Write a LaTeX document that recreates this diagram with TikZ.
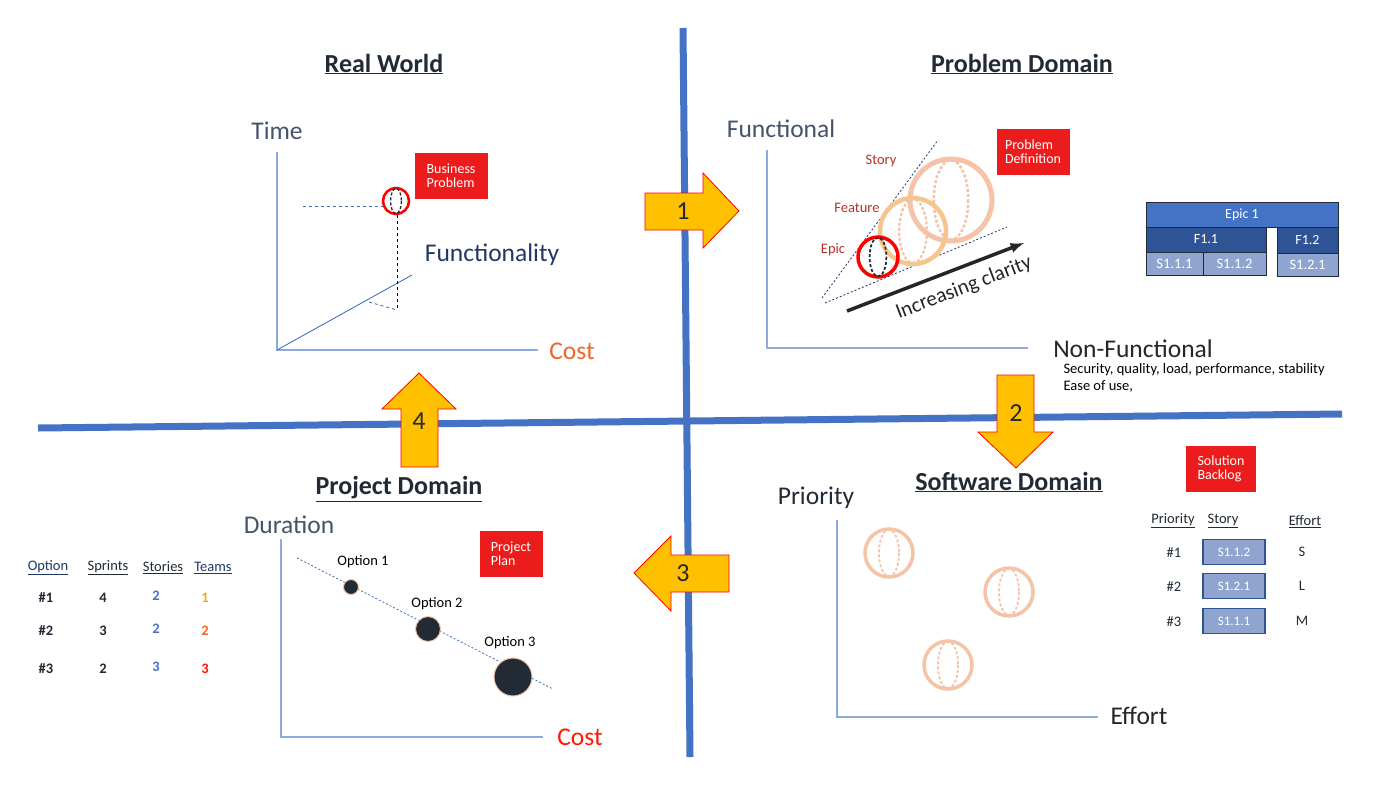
\documentclass[tikz,border=0pt]{standalone}
\usepackage{fontspec}
\setmainfont{Carlito}
\usetikzlibrary{positioning}

\definecolor{blu}{HTML}{4472C4}
\definecolor{assecol}{HTML}{8FAADC}
\definecolor{grigioblu}{HTML}{44546A}
\definecolor{navy}{HTML}{203864}
\definecolor{scuro}{HTML}{222A35}
\definecolor{rossobox}{HTML}{EC1C1C}
\definecolor{giallo}{HTML}{FFC000}
\definecolor{pesca}{HTML}{F4C3A8}
\definecolor{pescagialla}{HTML}{F7C48E}
\definecolor{rossoscuro}{HTML}{B8322A}
\definecolor{arancio}{HTML}{F06428}
\definecolor{arancio2}{HTML}{F5A623}
\definecolor{bluscuro}{HTML}{2F5496}
\definecolor{bluchiaro}{HTML}{8FA5CF}

\newcommand{\fs}[1]{\fontsize{#1}{#1}\selectfont}
% sfera: x, y, raggio, colore, colore interno, spessore
\newcommand{\sfera}[6]{%
   \draw[#4, line width=#6] (#1,#2) circle[radius=#3];
   \draw[#5, line width=0.5*#6, dash pattern=on 3pt off 2pt]
   (#1,#2) ellipse[x radius={0.42*#3}, y radius={0.97*#3}];}

\begin{document}
\begin{tikzpicture}[x=1pt,y=-1pt,
   titolo/.style={font=\fs{26}\bfseries, text=scuro},
   asselab/.style={font=\fs{25.5}},
   asse/.style={draw=assecol, line width=1.2},
   rbox/.style={fill=rossobox, text=white, font=\fs{14}, align=left,
     minimum width=73, minimum height=46, inner sep=2},
   freccia/.style={fill=giallo, draw=red, line width=0.8},
   numero/.style={font=\fs{26}, text=scuro},
   piccolo/.style={font=\fs{14.5}},
   cella/.style={draw=scuro, line width=0.6, text=white, font=\fs{13},
     inner sep=0},
   scella/.style={cella, fill=bluchiaro, font=\fs{14.5}, minimum height=23},
   storia/.style={cella, fill=bluchiaro, draw=bluscuro, line width=1.2,
     minimum width=62, minimum height=25}]
% sfondo
   \path[fill=white, use as bounding box] (0,0) rectangle (1400,788);
% linee di separazione
   \coordinate (vtop) at (683,28); \coordinate (vbot) at (690,757);
   \coordinate (hsx) at (38,428); \coordinate (hdx) at (1342,414);
   \draw[blu, line width=7] (vtop) -- (vbot);
   \draw[blu, line width=7] (hsx) -- (hdx);

% Real World
   \node[titolo] (rwtit) at (384,64) {\underline{Real World}};
   \node[asselab, text=grigioblu] (tempo) at (277,131) {Time};
   \node[asselab, text=arancio] (costorw) at (572,351) {Cost};
   \node[asselab, text=navy] (funz) at (492,255) {Functionality};
   \coordinate (orw) at (277,350); \coordinate (orwy) at (277,152);
   \coordinate (orwx) at (538,350); \coordinate (orwf) at (412,275);
   \draw[asse] (orwy) -- (orw) -- (orwx);
   \draw[blu, line width=0.9] (orw) -- (orwf);
   \coordinate (bpdx) at (303,206); \coordinate (bpgiu) at (397,310);
   \coordinate (bpdiag) at (369,302);
   \draw[blu, dashed, line width=0.9] (bpdx) -- (383,206);
   \draw[black, dashed, line width=0.9] (397,215) -- (bpgiu);
   \draw[blu, dashed, line width=0.9] (bpdiag) -- (bpgiu);
   \sfera{396}{201}{13}{red}{scuro}{2.6}
   \node[rbox] (bprob) at (451,176) {Business\\Problem};

% Problem Domain
   \node[titolo] (pdtit) at (1022,64) {\underline{Problem Domain}};
   \node[asselab, text=grigioblu] (funzionale) at (781,129) {Functional};
   \node[asselab, text=black!85] (nonfunz) at (1133,349) {Non-Functional};
   \node[piccolo, anchor=west, align=left, text=black] (nfdesc) at (1060,378)
     {Security, quality, load, performance, stability\\[3pt]Ease of use,};
   \coordinate (opd) at (767,348); \coordinate (opdy) at (767,150);
   \coordinate (opdx) at (1028,348);
   \draw[asse] (opdy) -- (opd) -- (opdx);
   \draw[navy, dash pattern=on 2pt off 2pt, line width=0.8] (822,298) -- (938,140);
   \draw[navy, dash pattern=on 2pt off 2pt, line width=0.8] (825,303) -- (1007,227);
   \draw[black!85, line width=3.5, -latex] (847,311) -- (1024,243);
   \node[font=\fs{21}, rotate=21, text=black!85] (chiarezza) at (964,288)
     {Increasing clarity};
   \sfera{951}{200}{41}{pesca}{pesca}{5}
   \sfera{913}{231}{33}{pescagialla}{pesca}{4.5}
   \sfera{878}{257}{20}{red}{scuro}{3.5}
   \node[piccolo, text=rossoscuro] (story) at (881,161) {Story};
   \node[piccolo, text=rossoscuro] (feature) at (857,208) {Feature};
   \node[piccolo, text=rossoscuro] (epic) at (833,250) {Epic};
   \node[rbox] (pdef) at (1033,152) {Problem\\Definition};
% tabella epic
   \node[cella, fill=blu, font=\fs{14}, minimum width=192, minimum height=25]
     (epic1) at (1242,214.5) {Epic 1};
   \node[cella, fill=bluscuro, font=\fs{14}, minimum width=120, minimum height=25]
     (f11) at (1206,239.5) {F1.1};
   \node[cella, fill=bluscuro, font=\fs{14}, minimum width=61, minimum height=26]
     (f12) at (1307.5,240) {F1.2};
   \node[scella, minimum width=57] (s111) at (1174.5,263.5) {S1.1.1};
   \node[scella, minimum width=63] (s112) at (1234.5,263.5) {S1.1.2};
   \node[scella, minimum width=61] (s121) at (1307.5,264.5) {S1.2.1};

% frecce
   \draw[freccia] (645,193) -- (703,193) -- (703,173) -- (739,211) -- (703,248)
     -- (703,230) -- (645,230) -- cycle;
   \node[numero] (n1) at (683,211) {1};
   \draw[freccia] (997,375) -- (1034,375) -- (1034,432) -- (1053,432)
     -- (1016,468) -- (978,432) -- (997,432) -- cycle;
   \node[numero] (n2) at (1016,413) {2};
   \draw[freccia] (634,573) -- (671,536) -- (671,555) -- (729,555) -- (729,592)
     -- (671,592) -- (671,611) -- cycle;
   \node[numero] (n3) at (683,573) {3};
   \draw[freccia] (419,373) -- (456,409) -- (438,409) -- (438,467) -- (401,467)
     -- (401,409) -- (382,409) -- cycle;
   \node[numero] (n4) at (419,421) {4};

% Project Domain
   \node[titolo] (prtit) at (399,489) {\underline{Project Domain}};
   \node[asselab, text=grigioblu] (durata) at (289,525) {Duration};
   \node[asselab, text=red!80!orange] (costopr) at (580,737) {Cost};
   \coordinate (opr) at (281,737); \coordinate (opry) at (281,539);
   \coordinate (oprx) at (543,737);
   \draw[asse] (opry) -- (opr) -- (oprx);
   \draw[blu, dash pattern=on 2pt off 2pt, line width=0.8] (297,558) -- (553,689);
   \fill[scuro, draw=pesca, line width=1] (351,587) circle[radius=7.5];
   \fill[scuro, draw=pesca, line width=1] (428,629) circle[radius=12.5];
   \fill[scuro, draw=pesca, line width=1] (513,677) circle[radius=19];
   \node[piccolo] (opt1) at (363,562) {Option 1};
   \node[piccolo] (opt2) at (437,604) {Option 2};
   \node[piccolo] (opt3) at (510,643) {Option 3};
   \node[rbox, minimum width=63] (pplan) at (511,554) {Project\\Plan};
% tabella opzioni
   \node[piccolo, text=navy] (hopt) at (48,568) {\underline{Option}};
   \node[piccolo, text=scuro] (hspr) at (108,568) {\underline{Sprints}};
   \node[piccolo, text=scuro] (hsto) at (163,568) {\underline{Stories}};
   \node[piccolo, text=navy] (htea) at (213,568) {\underline{Teams}};
   \foreach \r/\y/\s/\t/\c in {1/598/4/2/arancio2, 2/631/3/2/arancio,
       3/669/2/3/red!80!orange} {
     \node[piccolo, font=\fs{14.5}\bfseries, text=scuro] (op\r) at (46,\y) {\#\r};
     \node[piccolo, font=\fs{14.5}\bfseries, text=scuro] (sp\r) at (103,\y) {\s};
     \node[piccolo, font=\fs{14.5}\bfseries, text=blu] (st\r) at (156,\y-2) {\t};
     \node[piccolo, font=\fs{14.5}\bfseries, text=\c] (te\r) at (205,\y) {\r};
   }

% Software Domain
   \node[titolo] (swtit) at (1009,482) {\underline{Software Domain}};
   \node[asselab, text=scuro] (prior) at (816,498) {Priority};
   \node[asselab, text=black!85] (sforzo) at (1139,716) {Effort};
   \coordinate (osw) at (837,717); \coordinate (oswy) at (837,520);
   \coordinate (oswx) at (1098,717);
   \draw[asse] (oswy) -- (osw) -- (oswx);
   \sfera{889}{553}{24}{pesca}{pesca}{3.5}
   \sfera{1009}{592}{24}{pesca}{pesca}{3.5}
   \sfera{948}{665}{24}{pesca}{pesca}{3.5}
   \node[rbox, minimum width=70] (sback) at (1221,469) {Solution\\Backlog};
% backlog
   \node[piccolo, text=scuro] (hpri) at (1173,521) {\underline{Priority}};
   \node[piccolo, text=scuro] (hsty) at (1223,521) {\underline{Story}};
   \node[piccolo, text=scuro] (heff) at (1305,522) {\underline{Effort}};
   \foreach \r/\y/\s/\e in {1/553/S1.1.2/S, 2/587/S1.2.1/L, 3/622/S1.1.1/M} {
     \node[piccolo, text=scuro] (pr\r) at (1174,\y) {\#\r};
     \node[storia] (bl\r) at (1234,\y-1) {\s};
     \node[piccolo, text=scuro] (ef\r) at (1302,\y-1) {\e};
   }
\end{tikzpicture}
\end{document}
